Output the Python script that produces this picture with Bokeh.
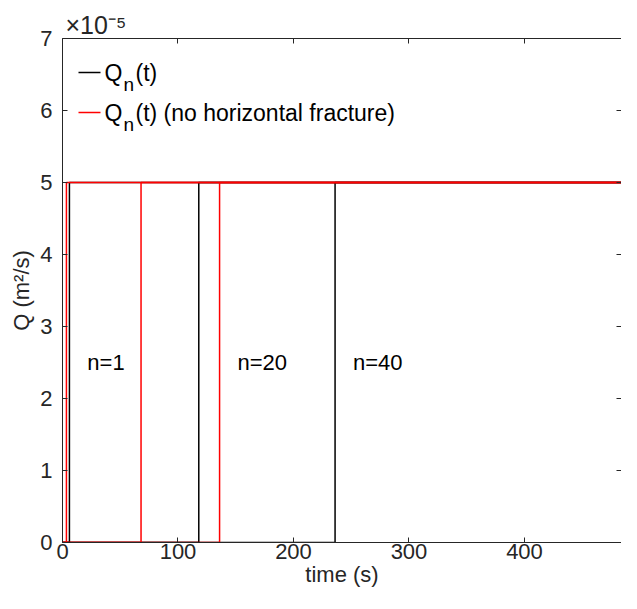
from bokeh.plotting import figure
from bokeh.models import (Range1d, LinearAxis, FixedTicker, CustomJSTickFormatter,
                          Label, BoxAnnotation, CustomLabelingPolicy)
from bokeh.embed import file_html
from bokeh.resources import INLINE

# ---------------- data ----------------
t_start = 0
t_end = 500
q_off = 0.0
q_on = 5e-5
switch_black = [6, 118, 236]        # Q_n(t)
switch_red = [3.4, 68, 136]         # Q_n(t) (no horizontal fracture)
n_labels = ["n=1", "n=20", "n=40"]
label_t = [21.5, 151.5, 251.5]
label_q = [2.5e-5, 2.5e-5, 2.5e-5]
x_ticks = [0, 100, 200, 300, 400, 500]
y_ticks = [0, 1e-5, 2e-5, 3e-5, 4e-5, 5e-5, 6e-5, 7e-5]

FONT = "Liberation Sans"
AX = "#262626"
FS = "22px"

p = figure(width=621, height=593, output_backend="svg", toolbar_location=None,
           x_range=Range1d(0, 484), y_range=Range1d(0, 7e-5),
           min_border_left=62, min_border_right=0, min_border_top=38,
           min_border_bottom=51)
p.grid.visible = False
p.outline_line_color = None
p.background_fill_color = "white"
p.border_fill_color = "white"

# exponent marker of the y axis (MATLAB style), as the title above the frame
p.title.text = "×10⁻⁵"
p.title.align = "left"
p.title.offset = 3
p.title.standoff = 0
p.title.text_font = FONT
p.title.text_font_size = "25px"
p.title.text_font_style = "normal"
p.title.text_color = AX

xa = p.xaxis[0]
xa.ticker = FixedTicker(ticks=x_ticks)
xa.axis_label = "time (s)"
ya = p.yaxis[0]
ya.ticker = FixedTicker(ticks=y_ticks)
ya.formatter = CustomJSTickFormatter(code="return (tick*1e5).toFixed(0);")
ya.axis_label = "Q (m²/s)"

for ax in (xa, ya):
    ax.axis_line_color = AX
    ax.major_tick_line_color = AX
    ax.major_tick_in = 5
    ax.major_tick_out = 0
    ax.minor_tick_line_color = None
    ax.major_label_text_font = FONT
    ax.major_label_text_font_size = FS
    ax.major_label_text_color = AX
    ax.axis_label_text_font = FONT
    ax.axis_label_text_font_size = FS
    ax.axis_label_text_font_style = "normal"
    ax.axis_label_text_color = AX
xa.major_label_standoff = 1
xa.axis_label_standoff = 0
ya.major_label_standoff = 10
ya.axis_label_standoff = 3

hide = CustomLabelingPolicy(code="return [];")
top = LinearAxis(ticker=FixedTicker(ticks=x_ticks), major_label_policy=hide,
                 major_label_text_font_size="0px",
                 major_label_standoff=0, major_tick_in=5, major_tick_out=0,
                 minor_tick_line_color=None, axis_line_color=AX, major_tick_line_color=AX)
p.add_layout(top, "above")
right = LinearAxis(ticker=FixedTicker(ticks=y_ticks), major_label_policy=hide,
                   major_label_text_font_size="0px",
                   major_label_standoff=0, major_tick_in=5, major_tick_out=0,
                   minor_tick_line_color=None, axis_line_color=None, major_tick_line_color=AX)
p.add_layout(right, "right")

# ---------------- curves ----------------
for ts in switch_black:
    p.step(x=[t_start, ts, t_end], y=[q_off, q_on, q_on], mode="after",
           line_color="black", line_width=1.5)
for ts in switch_red:
    p.step(x=[t_start, ts, t_end], y=[q_off, q_on, q_on], mode="after",
           line_color="#ff0000", line_width=1.5)

for txt, tx, qy in zip(n_labels, label_t, label_q):
    p.add_layout(Label(x=tx, y=qy, text=txt, text_font=FONT, text_font_size=FS,
                       text_color="black", text_baseline="middle"))

# ---------------- legend (manual, MATLAB style) ----------------
def lab(x, y, text, size="23px", color="black"):
    p.add_layout(Label(x=x, y=y, x_units="screen", y_units="screen", text=text,
                       text_font=FONT, text_font_size=size, text_color=color,
                       text_baseline="alphabetic"))

entries = [("black", "(t)"), ("#ff0000", "(t) (no horizontal fracture)")]
for i, (col, tail) in enumerate(entries):
    dy = 40 * i
    p.add_layout(BoxAnnotation(left=16, right=38, bottom=469.25 - dy, top=470.75 - dy,
                               left_units="screen", right_units="screen",
                               bottom_units="screen", top_units="screen",
                               fill_color=col, fill_alpha=1, line_color=None))
    lab(42, 470 - dy, "Q")
    lab(61, 458 - dy, "n", size="19px")
    lab(73, 470 - dy, tail)

open("out.html", "w").write(file_html(p, INLINE))
